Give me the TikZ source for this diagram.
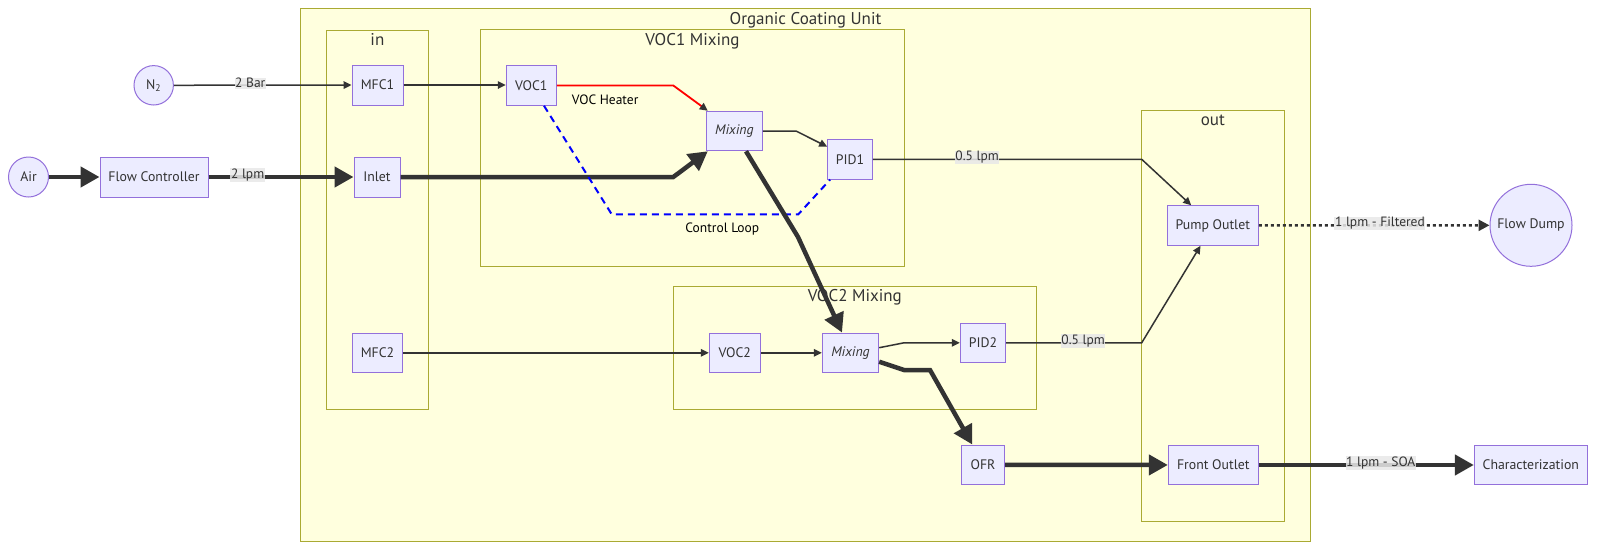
\documentclass[tikz,border=0pt]{standalone}
\usepackage{fontspec}
\setmainfont{PT Sans}
\usetikzlibrary{arrows.meta,calc}
\definecolor{nodefill}{HTML}{ECECFF}
\definecolor{nodeborder}{HTML}{9370DB}
\definecolor{clfill}{HTML}{FFFFDE}
\definecolor{clborder}{HTML}{AAAA33}
\definecolor{ink}{HTML}{333333}
\definecolor{lblbg}{HTML}{E8E8E8}
\begin{document}
\begin{tikzpicture}[x=1pt,y=-1pt,
  box/.style={draw=nodeborder, fill=nodefill, line width=1pt, inner sep=0pt, text=ink,
              minimum height=39.5pt, font=\fontsize{13.8}{16}\selectfont},
  circ/.style={box, circle},
  cluster/.style={draw=clborder, fill=clfill, line width=1pt},
  ctitle/.style={text=ink, font=\fontsize{17}{20}\selectfont, inner sep=0pt, anchor=base},
  flow/.style={draw=ink, line width=1.5pt, -{Triangle[length=8pt,width=7.5pt]}},
  flowthick/.style={draw=ink, line width=4.5pt, -{Triangle[length=19pt,width=20pt]}},
  elabel/.style={fill=lblbg, fill opacity=0.85, text opacity=1, text=ink, inner sep=0.6pt,
                 yshift=2pt, font=\fontsize{13.5}{16}\selectfont},
  plabel/.style={text=black, inner sep=0pt, font=\fontsize{13.5}{16}\selectfont},
]
\useasboundingbox (0,0) rectangle (1611,555);
\fill[white] (0,0) rectangle (1611,555);

% clusters
\path[cluster] (300.5,8.7) rectangle (1310.5,541);
\node[ctitle] (tocu) at (805.5,24) {Organic Coating Unit};
\path[cluster] (326.5,30) rectangle (428.3,409.3);
\node[ctitle] (tin) at (377.4,45) {in};
\path[cluster] (480.7,29.7) rectangle (904.3,266);
\node[ctitle] (tvoc1) at (692.5,45) {VOC1 Mixing};
\path[cluster] (673.3,286.3) rectangle (1036.3,409);
\node[ctitle] (tvoc2) at (854.8,301.5) {VOC2 Mixing};
\path[cluster] (1141.3,110.3) rectangle (1284.3,521);
\node[ctitle] (tout) at (1212.8,125.5) {out};

% nodes
\node[circ, minimum size=39.4pt] (n2) at (153.7,85.3) {N\textsubscript{2}};
\node[circ, minimum size=40pt] (air) at (28.5,177) {Air};
\node[box, minimum width=108pt, minimum height=40pt] (fc) at (154,177) {Flow Controller};
\node[box, minimum width=51pt, minimum height=40pt] (mfc1) at (377.5,85) {MFC1};
\node[box, minimum width=46pt, minimum height=40pt] (inlet) at (377,177) {Inlet};
\node[box, minimum width=50.4pt] (mfc2) at (377.5,352.8) {MFC2};
\node[box, minimum width=50pt] (voc1) at (531.3,85.5) {VOC1};
\node[box, minimum width=56pt] (mix1) at (734.3,131) {\itshape Mixing};
\node[box, minimum width=44.6pt] (pid1) at (850,159.3) {PID1};
\node[box, minimum width=51pt] (voc2) at (734.8,352.8) {VOC2};
\node[box, minimum width=56.4pt] (mix2) at (850.5,352.8) {\itshape Mixing};
\node[box, minimum width=45.4pt] (pid2) at (983,342.8) {PID2};
\node[box, minimum width=43.4pt] (ofr) at (983,464.8) {OFR};
\node[box, minimum width=91pt] (pump) at (1212.8,225.5) {Pump Outlet};
\node[box, minimum width=90pt, minimum height=38.6pt] (front) at (1213.3,465) {Front Outlet};
\node[circ, minimum size=82pt] (dump) at (1531,225.3) {Flow Dump};
\node[box, minimum width=113pt, minimum height=38.6pt] (char) at (1530.8,465) {Characterization};

% connectors
\draw[flow] (n2) -- node[elabel, pos=0.43] {2 Bar} (mfc1);
\draw[flowthick] (air) -- (fc);
\draw[flowthick] (fc) -- node[elabel, pos=0.27] {2 lpm} (inlet);
\draw[flow] (mfc1) -- (voc1.west |- mfc1);
\draw[red, line width=1.8pt, -{Triangle[length=8pt,width=7.5pt,color=ink]}]
  (voc1.east) -- node[plabel, pos=0.415, yshift=-14.5pt] {VOC Heater} (673.3,85.5)
  -- ($(mix1.north west)+(2,0)$);
\draw[flowthick] (inlet.east) -- (673.3,177) -- ($(mix1.south west)+(2,0)$);
\draw[flow] (mix1.east) -- (796,131) -- ($(pid1.west)+(0,-12.6)$);
\draw[blue, line width=2pt, dash pattern=on 7pt off 5pt]
  ($(voc1.south)+(12.7,0)$) -- (611.7,214.3)
  -- node[plabel, pos=0.593, yshift=-15pt] {Control Loop} (798.3,214.3)
  -- ($(pid1.south west)+(3,0)$);
\draw[flowthick] ($(mix1.south)+(11.7,0)$) -- (798,237) -- ($(mix2.north)+(-8.5,0)$);
\draw[flow] (mfc2) -- (voc2);
\draw[flow] (voc2) -- (mix2);
\draw[flow] ($(mix2.east)+(0,-5.1)$) -- (904,342.8) -- (pid2.west);
\draw[flowthick] ($(mix2.east)+(0,8.9)$) -- (904,370) -- (930,370) -- ($(ofr.north)+(-10.7,0)$);
\draw[flow] (pid1.east) -- node[elabel, pos=0.388] {0.5 lpm} (1141.7,159.3)
  -- ($(pump.north west)+(24.4,0)$);
\draw[flow] (pid2.east) -- node[elabel, pos=0.568] {0.5 lpm} (1141.7,342.8)
  -- ($(pump.south west)+(33.7,0)$);
\draw[flowthick] (ofr) -- (front);
\draw[draw=ink, line width=2.5pt, dash pattern=on 3pt off 3pt, -{Triangle[length=11pt,width=11pt]}]
  (pump) -- node[elabel, pos=0.525] {1 lpm - Filtered} (dump);
\draw[flowthick] (front) -- node[elabel, pos=0.567] {1 lpm - SOA} (char);
\end{tikzpicture}
\end{document}
